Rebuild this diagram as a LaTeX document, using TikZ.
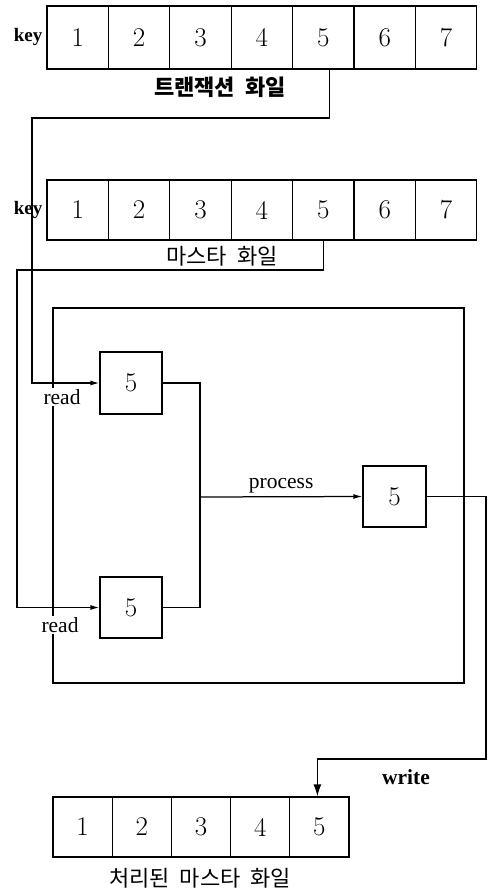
\documentclass[tikz,border=0pt]{standalone}
\usepackage{fontspec}
\setmainfont{Liberation Serif}
\newfontfamily\kr{Noto Sans CJK KR}
\newfontfamily\lmd{Latin Modern Roman}
\usetikzlibrary{arrows.meta}
\begin{document}
\begin{tikzpicture}[x=1pt,y=-1pt,line width=1.25pt,
  cell/.style={draw,minimum width=61.4pt,minimum height=63pt,inner sep=0pt,font=\lmd\fontsize{27}{27}\selectfont},
  bcell/.style={draw,minimum width=59.2pt,minimum height=60pt,inner sep=0pt,font=\lmd\fontsize{27}{27}\selectfont},
  rec/.style={draw,minimum width=62pt,minimum height=62pt,inner sep=0pt,font=\lmd\fontsize{27}{27}\selectfont},
  lbl/.style={font=\fontsize{21.5}{21.5}\selectfont,inner sep=1pt},
  keyl/.style={font=\bfseries\fontsize{19}{19}\selectfont,inner sep=0pt},
  krl/.style={font=\kr\fontsize{22}{22}\selectfont,inner sep=0pt},
  arr/.style={-{Latex[length=9pt,width=5pt]}},
  warr/.style={-{Latex[length=12pt,width=8pt]}}]
\useasboundingbox (0,0) rectangle (491,889);
% top row
\foreach \i in {1,...,7}{
  \node[cell] (t\i) at ({47+61.4*(\i-0.5)},37.5) {\i};
}
\node[keyl] (tk) at (28,37) {key};
\node[krl,font=\kr\bfseries\fontsize{22}{22}\selectfont] (tl) at (220,87) {트랜잭션\ \ 화일};
% middle row
\foreach \i in {1,...,7}{
  \node[cell,minimum height=60pt] (m\i) at ({47+61.4*(\i-0.5)},210) {\i};
}
\node[keyl] (mk) at (28,210) {key};
\node[krl] (ml) at (222,256) {마스타\ \ 화일};
% process frame
\node[draw,minimum width=411pt,minimum height=375pt,inner sep=0pt] (proc) at (258.5,495.5) {};
% record boxes
\node[rec] (r1) at (131,383) {5};
\node[rec,minimum height=61pt] (r2) at (131,607.5) {5};
\node[rec,minimum width=63pt,minimum height=61pt] (r3) at (394.5,496.5) {5};
\node[lbl,fill=white] (rd1) at (62,397) {read};
\node[lbl,fill=white] (rd2) at (60,625) {read};
% bottom row
\foreach \i in {1,...,5}{
  \node[bcell] (b\i) at ({53+59.2*(\i-0.5)},827) {\i};
}
\node[krl] (bl) at (200,878) {처리된\ \ 마스타\ \ 화일};
% connectors
\coordinate (ta) at (32,118);
\coordinate (mb) at (17,270);
\coordinate (jn) at (200,497);
\coordinate (w1) at (486,759);
\draw[arr] ([xshift=6pt]t5.south) |- (ta) |- (r1.west);
\draw[arr] (m5.south) |- (mb) |- (r2.west);
\draw (r1.east) -| (jn);
\draw (r2.east) -| (jn);
\draw[arr] (jn) -- (r3.west) node[lbl,midway,above=2pt] (pl) {process};
\draw[warr] (r3.east) -| (w1) -| ([xshift=-2pt]b5.north);
\node[lbl,font=\bfseries\fontsize{21.5}{21.5}\selectfont] (wl) at (406,777) {write};
\end{tikzpicture}
\end{document}
